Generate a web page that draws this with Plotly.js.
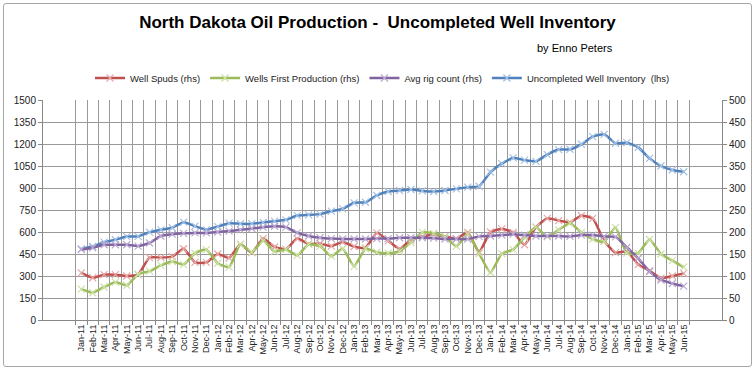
<!DOCTYPE html>
<html>
<head>
<meta charset="utf-8">
<script src="https://cdn.plot.ly/plotly-3.0.1.min.js"></script>
<style>
  html, body { margin: 0; padding: 0; background: #fff; }
  #wrap { position: relative; width: 755px; height: 370px; }
  #chart { position: absolute; left: 0; top: 0; width: 755px; height: 370px; }
  #frame { position: absolute; left: 3px; top: 3px; width: 747px; height: 362px;
           border: 1px solid #a6a6a6; border-radius: 3px; pointer-events: none; }
</style>
</head>
<body>
<div id="wrap"><div id="chart"></div><div id="frame"></div></div>
<script>
const months = ["Jan-11","Feb-11","Mar-11","Apr-11","May-11","Jun-11","Jul-11","Aug-11","Sep-11","Oct-11","Nov-11","Dec-11",
  "Jan-12","Feb-12","Mar-12","Apr-12","May-12","Jun-12","Jul-12","Aug-12","Sep-12","Oct-12","Nov-12","Dec-12",
  "Jan-13","Feb-13","Mar-13","Apr-13","May-13","Jun-13","Jul-13","Aug-13","Sep-13","Oct-13","Nov-13","Dec-13",
  "Jan-14","Feb-14","Mar-14","Apr-14","May-14","Jun-14","Jul-14","Aug-14","Sep-14","Oct-14","Nov-14","Dec-14",
  "Jan-15","Feb-15","Mar-15","Apr-15","May-15","Jun-15"];

// right-hand axis series
const wellSpuds = [107,96,103,103,100,103,142,142,144,162,131,131,
  150,141,172,153,185,166,161,185,173,174,168,177,
  167,164,198,180,162,182,190,194,190,185,199,155,
  200,207,199,171,211,231,226,222,237,231,180,153,
  156,126,112,95,100,106];
const wellsFirstProd = [70,62,75,86,79,104,111,124,133,126,152,160,
  129,120,172,154,180,156,160,147,172,168,145,162,
  122,162,154,152,156,176,199,197,189,168,195,151,
  108,151,160,188,211,189,205,220,199,184,178,210,
  152,152,183,150,135,120];
const rigCount = [160,164,171,171,171,168,175,191,195,197,198,198,
  200,202,205,208,211,213,211,198,191,187,185,184,
  184,184,185,185,187,187,187,186,184,184,184,190,
  191,193,195,193,191,191,191,190,193,193,190,189,
  165,140,110,91,83,77];
// left-hand axis series
const uncompleted = [485,501,531,547,569,570,599,615,629,667,640,615,
  637,660,656,656,665,674,683,712,717,722,742,758,
  799,803,849,876,883,890,880,876,883,894,906,912,
  1008,1066,1105,1090,1082,1128,1162,1164,1198,1250,1266,1205,
  1209,1177,1102,1050,1023,1011];

const seriesNames = ["Well Spuds (rhs)", "Wells First Production (rhs)", "Avg rig count (rhs)", "Uncompleted Well Inventory  (lhs)"];

const FONT = "Liberation Sans, Arial, sans-serif";

function mk(name, y, axis, color, mcolor) {
  return {
    type: "scatter", mode: "lines+markers", name: name,
    x: months, y: y, yaxis: axis,
    line: { color: color, width: 2.5, shape: "spline", smoothing: 0.5 },
    marker: { symbol: "x-thin", size: 7, line: { color: mcolor, width: 1.2 }, color: mcolor }
  };
}

const data = [
  mk(seriesNames[0], wellSpuds, "y2", "#C0504D", "#E6A9A7"),
  mk(seriesNames[1], wellsFirstProd, "y2", "#9BBB59", "#CDE0A6"),
  mk(seriesNames[2], rigCount, "y2", "#8064A2", "#BBA9D1"),
  mk(seriesNames[3], uncompleted, "y", "#4F81BD", "#A3C0E3")
];

const layout = {
  width: 755, height: 370,
  margin: { l: 43, r: 33, t: 100, b: 50 },
  paper_bgcolor: "#fff", plot_bgcolor: "#fff",
  font: { family: FONT, color: "#222", size: 10 },
  title: { text: "North Dakota Oil Production -  Uncompleted Well Inventory",
           font: { family: FONT, size: 17, color: "#000", weight: "bold" },
           x: 0.5, xref: "container", xanchor: "center", y: 1 - 22/370, yref: "container", yanchor: "middle" },
  annotations: [{ text: "by Enno Peters", xref: "paper", yref: "paper", x: (575-43)/679, y: (320-48)/220,
                  xanchor: "center", yanchor: "middle", showarrow: false, font: { family: FONT, size: 11, color: "#000" } }],
  showlegend: true,
  legend: { orientation: "h", x: 0.5, xanchor: "center", y: (320-78)/220, yref: "paper",
            yanchor: "middle", font: { family: FONT, size: 9.5, color: "#222" }, itemwidth: 30,
            bgcolor: "rgba(0,0,0,0)" },
  xaxis: { type: "category", tickson: "boundaries", ticks: "outside", ticklen: 4, tickcolor: "#888",
           showgrid: true, gridcolor: "#999", gridwidth: 1, showline: true, linecolor: "#888",
           tickangle: -90, tickfont: { family: FONT, size: 9, color: "#222" }, automargin: false, fixedrange: true },
  yaxis: { range: [0, 1500], dtick: 150, tick0: 0, ticks: "outside", ticklen: 4, tickcolor: "#888",
           showgrid: true, gridcolor: "#999", gridwidth: 1, showline: true, linecolor: "#888", zeroline: false,
           tickfont: { family: FONT, size: 10, color: "#222" }, automargin: false },
  yaxis2: { range: [0, 500], dtick: 50, tick0: 0, overlaying: "y", side: "right", ticks: "outside", ticklen: 4,
            tickcolor: "#888", showgrid: false, showline: true, linecolor: "#888", zeroline: false,
            tickfont: { family: FONT, size: 10, color: "#222" }, automargin: false }
};

Plotly.newPlot("chart", data, layout, { displayModeBar: false, staticPlot: true });
</script>
</body>
</html>
